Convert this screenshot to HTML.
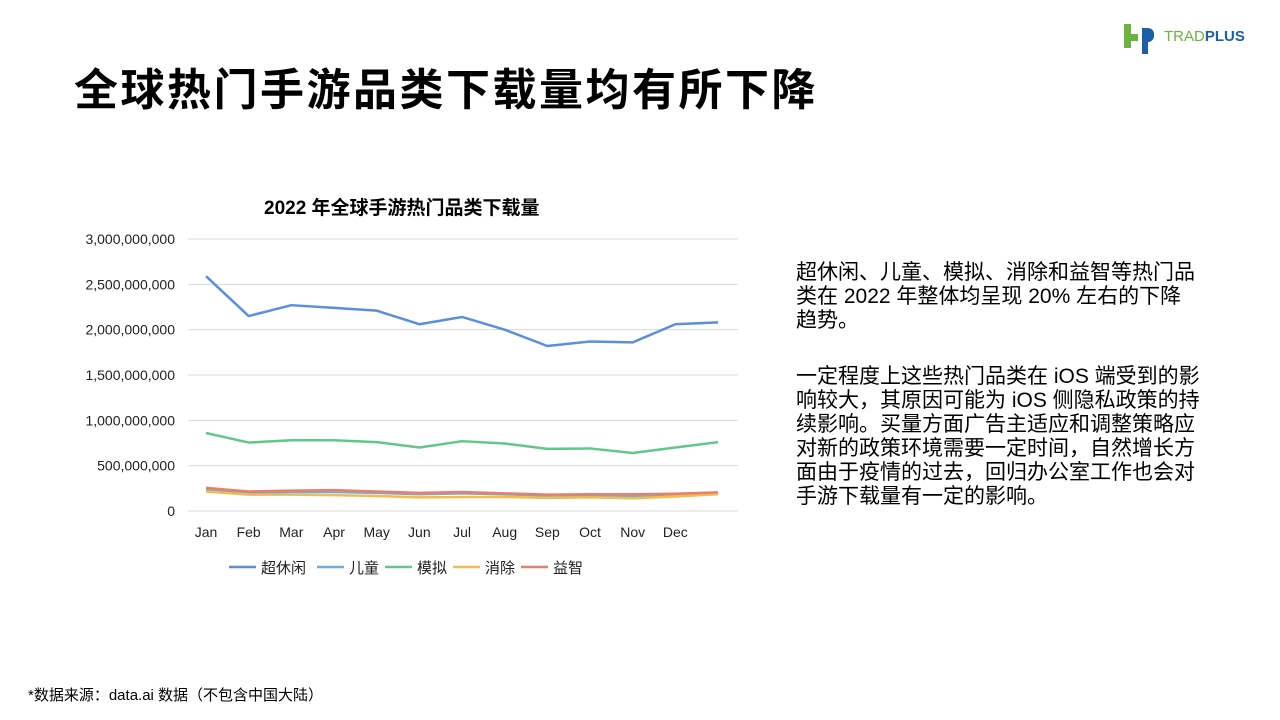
<!DOCTYPE html>
<html><head><meta charset="utf-8">
<style>
body{margin:0;width:1280px;height:720px;background:#fff;font-family:"Liberation Sans","Noto Sans CJK SC",sans-serif;position:relative;overflow:hidden}
.abs{position:absolute}
</style></head><body>
<div class="abs" style="left:74px;top:54px;font-size:44px;font-weight:bold;color:#000;letter-spacing:2.5px;white-space:nowrap">全球热门手游品类下载量均有所下降</div>
<div class="abs" style="left:1122px;top:20px;width:140px;height:34px">
 <div class="abs" style="left:2px;top:4px;width:7px;height:24px;background:#6cb33f"></div>
 <div class="abs" style="left:2px;top:14px;width:14px;height:7px;background:#6cb33f"></div>
 <div class="abs" style="left:20px;top:8px;width:12px;height:14px;background:#1b5fa8;border-radius:0 6px 6px 0"></div>
 <div class="abs" style="left:20px;top:8px;width:6px;height:26px;background:#1b5fa8"></div>
 <div class="abs" style="left:42px;top:8px;font-size:15px;color:#6cb33f">TRAD<b style="color:#1b5fa8">PLUS</b></div>
</div>
<div class="abs" style="left:264px;top:193px;font-size:19px;font-weight:bold">2022 年全球手游热门品类下载量</div>
<svg class="abs" style="left:0;top:0" width="1280" height="720" id="chart"></svg>
<div class="abs" style="left:796px;top:261px;width:440px;font-size:21px;line-height:24px;color:#000;white-space:nowrap">
<p style="margin:0 0 32px 0">超休闲、儿童、模拟、消除和益智等热门品<br>类在 2022 年整体均呈现 20% 左右的下降<br>趋势。</p>
<p style="margin:0">一定程度上这些热门品类在 iOS 端受到的影<br>响较大，其原因可能为 iOS 侧隐私政策的持<br>续影响。买量方面广告主适应和调整策略应<br>对新的政策环境需要一定时间，自然增长方<br>面由于疫情的过去，回归办公室工作也会对<br>手游下载量有一定的影响。</p></div>
<div class="abs" style="left:28px;top:684px;font-size:15px">*数据来源：data.ai 数据（不包含中国大陆）</div>
<script>
const months=["Jan","Feb","Mar","Apr","May","Jun","Jul","Aug","Sep","Oct","Nov","Dec"];
const yTicks=[0,500000000,1000000000,1500000000,2000000000,2500000000,3000000000];
const hypercasual=[2590e6,2150e6,2270e6,2240e6,2210e6,2060e6,2140e6,2000e6,1820e6,1870e6,1860e6,2060e6,2080e6];
const kids=[240e6,200e6,210e6,210e6,200e6,185e6,195e6,185e6,170e6,175e6,165e6,185e6,195e6];
const sim=[860e6,755e6,780e6,780e6,760e6,700e6,770e6,745e6,685e6,690e6,640e6,700e6,760e6];
const match=[215e6,180e6,180e6,175e6,165e6,150e6,155e6,155e6,145e6,150e6,140e6,160e6,185e6];
const puzzle=[255e6,215e6,225e6,230e6,215e6,200e6,210e6,195e6,180e6,185e6,185e6,190e6,205e6];
const seriesNames=["超休闲","儿童","模拟","消除","益智"];
const colors=["#5b8fdc","#6aafe0","#63c78c","#f5bb4c","#ea7f6a"];
const ns="http://www.w3.org/2000/svg",svg=document.getElementById('chart');
const X=i=>206+i*42.67, Y=v=>511-v/3e9*272;
function mk(t,a,txt){const e=document.createElementNS(ns,t);for(const k in a)e.setAttribute(k,a[k]);if(txt!==undefined)e.textContent=txt;svg.appendChild(e);return e;}
yTicks.forEach(v=>{
 const l=mk('line',{x1:188,x2:738,y1:Y(v),y2:Y(v),stroke:'#d9d9d9','stroke-width':1});
 
 
 const t=mk('text',{x:175,y:Y(v)+5,'text-anchor':'end','font-size':14,fill:'#222'},v.toLocaleString('en-US'));
 
 
});
months.forEach((m,i)=>{
 const t=mk('text',{x:X(i),y:537,'text-anchor':'middle','font-size':14,fill:'#222'},m);
 
 
});
[hypercasual,kids,sim,match,puzzle].forEach((s,k)=>{
 const p=mk('polyline',{points:s.map((v,i)=>X(i)+','+Y(v)).join(' '),fill:'none',stroke:colors[k],'stroke-width':2.5,'stroke-linejoin':'round'});
 
 
});
const lx=[229,317,385,453,521];
seriesNames.forEach((n,k)=>{
 const l=mk('line',{x1:lx[k],x2:lx[k]+27,y1:567,y2:567,stroke:colors[k],'stroke-width':2.5});
 
 
 const t=mk('text',{x:lx[k]+32,y:573,'font-size':15,fill:'#222'},n);
 
 
});
</script>
</body></html>
